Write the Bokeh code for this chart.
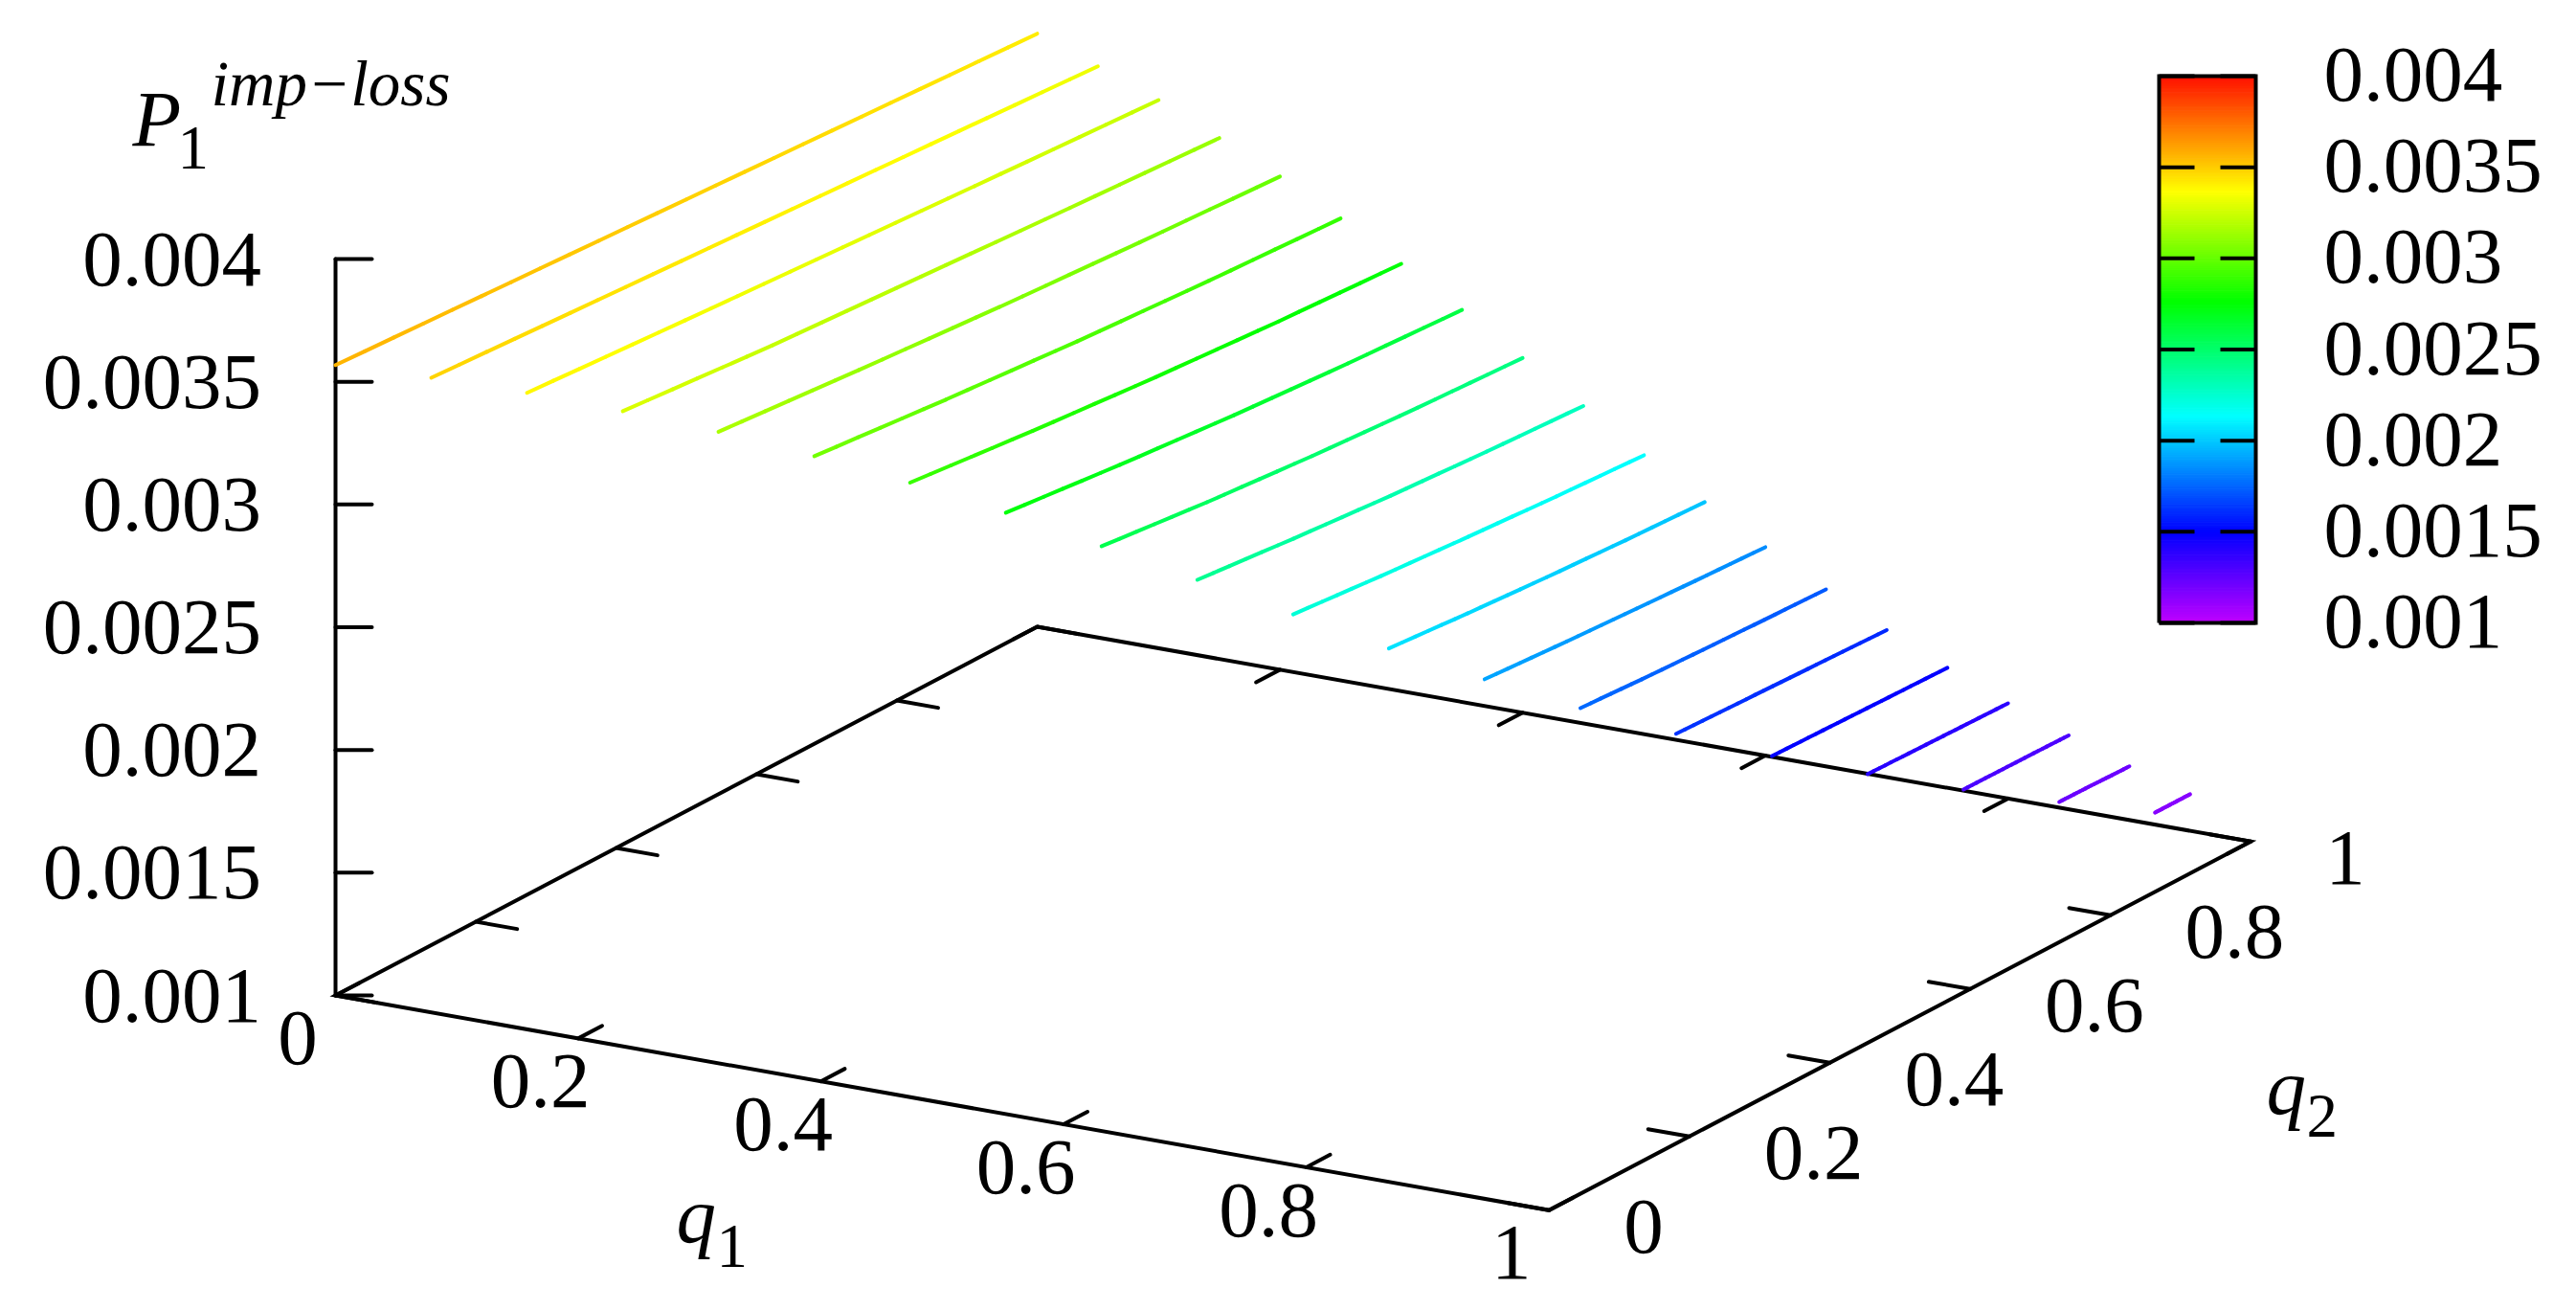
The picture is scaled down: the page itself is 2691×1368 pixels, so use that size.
import numpy as np
from bokeh.plotting import figure
from bokeh.models import Range1d
from bokeh.core.properties import value
from bokeh.embed import file_html
from bokeh.resources import INLINE

# ---------- data ----------
Q1_LINES = [0.00, 0.05, 0.10, 0.15, 0.20, 0.25, 0.30, 0.35, 0.40, 0.45,
            0.50, 0.55, 0.60, 0.65, 0.70, 0.75, 0.80, 0.85, 0.90, 0.95]
# P1 along each line: at q2=q1, a quarter, half, three quarters of the way, and at q2=1
Z_START = [.003568, .003485, .003392, .003286, .003171, .003040, .002901, .002747, .002579, .002411,
           .002239, .002069, .001912, .001763, .001627, .001505, .001400, .001306, .001224, .001149]
Z_QUART = [.003530, .003445, .003349, .003234, .003122, .002989, .002849, .002698, .002533, .002373,
           .002207, .002043, .001893, .001749, .001620, .001501, .001397, .001305, .001223, .001149]
Z_MID = [.003492, .003406, .003309, .003196, .003078, .002945, .002805, .002656, .002496, .002340,
         .002180, .002021, .001877, .001738, .001613, .001497, .001394, .001304, .001222, .001149]
Z_THREE = [.003454, .003367, .003270, .003157, .003041, .002910, .002769, .002623, .002467, .002314,
           .002156, .002003, .001862, .001729, .001606, .001493, .001391, .001303, .001220, .001149]
Z_END = [.003416, .003327, .003233, .003122, .003009, .002882, .002741, .002597, .002445, .002293,
         .002136, .001989, .001849, .001721, .001599, .001489, .001388, .001301, .001219, .001149]

Z_TICKS = [.001, .0015, .002, .0025, .003, .0035, .004]
Z_LABELS = ["0.001", "0.0015", "0.002", "0.0025", "0.003", "0.0035", "0.004"]
Q_TICKS = [0, .2, .4, .6, .8, 1]
Q_LABELS = ["0", "0.2", "0.4", "0.6", "0.8", "1"]

PALETTE_Z = [.001, .0015, .002137, .002764, .003369, .004]
PALETTE_RGB = [(192, 0, 255), (0, 0, 255), (0, 255, 255), (0, 255, 0), (255, 255, 0), (255, 16, 0)]

# ---------- projection of the 3-D box onto the page ----------
ZMIN, ZMAX = .001, .004
OX, OY = 350.0, 1039.0
Q1X, Q1Y = 1267.7, 224.3
Q2X, Q2Y = 733.0, -385.0
ZH = 769.0


def px(q1, q2, z=ZMIN):
    return (OX + Q1X * q1 + Q2X * q2, OY + Q1Y * q1 + Q2Y * q2 - (z - ZMIN) / (ZMAX - ZMIN) * ZH)


def colour(z):
    r, g, b = [int(round(np.interp(z, PALETTE_Z, [c[i] for c in PALETTE_RGB]))) for i in range(3)]
    return f"#{r:02x}{g:02x}{b:02x}"


p = figure(width=2675, height=1352, x_range=Range1d(0, 2675), y_range=Range1d(1352, 0),
           output_backend="svg", toolbar_location=None, min_border=0, outline_line_color=None)
p.axis.visible = False
p.grid.visible = False

LW = 4.0
FONT = value("Liberation Serif")
FS = "83px"
SUB = "65px"
SUP = "67px"
LIFT = 0.36  # the renderer sets its baseline this far (in em) below the asked position


def seg(a, b):
    p.line([a[0], b[0]], [a[1], b[1]], line_color="black", line_width=LW, line_cap="round")


# box floor and vertical axis
A, B, C, D = px(0, 0), px(1, 0), px(1, 1), px(0, 1)
xs = [D[0], A[0], B[0], C[0], D[0]]
ys = [D[1], A[1], B[1], C[1], D[1]]
p.line(xs, ys, line_color="black", line_width=LW, line_join="miter")
seg(A, px(0, 0, ZMAX))

# ticks
T = 0.034
for q in Q_TICKS:
    seg(px(q, 0), px(q, T))          # q1 front
    seg(px(q, 1), px(q, 1 - T))      # q1 back
    seg(px(1, q), px(1 - T, q))      # q2 front
    seg(px(0, q), px(T, q))          # q2 left
for z in Z_TICKS:
    a = px(0, 0, z)
    seg(a, (a[0] + 38, a[1]))

# data lines; each stretch is shaded along its length as the original palette does
seg_x, seg_y, seg_c = [], [], []
for q1, *zv in zip(Q1_LINES, Z_START, Z_QUART, Z_MID, Z_THREE, Z_END):
    q2s = [q1 + (1 - q1) * f for f in (0, .25, .5, .75, 1)]
    for i in range(4):
        shades = 6
        for j in range(shades):
            f0, f1 = j / shades, (j + 1) / shades
            z0 = zv[i] + (zv[i + 1] - zv[i]) * f0
            z1 = zv[i] + (zv[i + 1] - zv[i]) * f1
            a = px(q1, q2s[i] + (q2s[i + 1] - q2s[i]) * f0, z0)
            b = px(q1, q2s[i] + (q2s[i + 1] - q2s[i]) * f1, z1)
            seg_x.append([a[0], b[0]])
            seg_y.append([a[1], b[1]])
            seg_c.append(colour((z0 + z1) / 2))
p.multi_line(xs=seg_x, ys=seg_y, line_color=seg_c, line_width=LW, line_cap="round")

# tick labels
FSN = 83
SUBN = 65
zx = [272.5] * len(Z_TICKS)
zy = [px(0, 0, z)[1] + 30 - LIFT * FSN for z in Z_TICKS]
p.text(zx, zy, text=Z_LABELS, text_font=FONT, text_font_size=FS, text_align="right", text_baseline="alphabetic")
q1x = [px(q, 0)[0] - 39.5 for q in Q_TICKS]
q1y = [px(q, 0)[1] + 74.5 - LIFT * FSN for q in Q_TICKS]
p.text(q1x, q1y, text=Q_LABELS, text_font=FONT, text_font_size=FS, text_align="center", text_baseline="alphabetic")
q2x = [px(1, q)[0] + 78 for q in Q_TICKS]
q2y = [px(1, q)[1] + 47 - LIFT * FSN for q in Q_TICKS]
p.text(q2x, q2y, text=Q_LABELS, text_font=FONT, text_font_size=FS, text_align="left", text_baseline="alphabetic")


def label(x, y, s, size, n, italic=False):
    p.text([x], [y - LIFT * n], text=[s], text_font=FONT, text_font_size=size,
           text_font_style="italic" if italic else "normal",
           text_align="left", text_baseline="alphabetic")


# axis titles
label(138, 153, "P", FS, FSN, True)
label(185, 177, "1", SUB, SUBN)
label(220, 111, "imp\u2212loss", SUP, 67, True)
label(706, 1298, "q", FS, FSN, True)
label(748, 1324, "1", SUB, SUBN)
label(2367, 1164, "q", FS, FSN, True)
label(2409, 1188, "2", SUB, SUBN)

# colour bar
BX0, BX1, BY0, BY1 = 2255.0, 2356.0, 650.0, 79.0


def by(z):
    return BY0 + (z - ZMIN) / (ZMAX - ZMIN) * (BY1 - BY0)


edges = np.linspace(ZMIN, ZMAX, 241)
cols = [colour((a + b) / 2) for a, b in zip(edges[:-1], edges[1:])]
p.quad(left=BX0, right=BX1, bottom=[by(z) for z in edges[:-1]], top=[by(z) for z in edges[1:]],
       fill_color=cols, line_color=cols, line_width=1)
for z in Z_TICKS:
    y = by(z)
    p.line([BX0, BX0 + 37], [y, y], line_color="black", line_width=LW)
    p.line([BX1 - 37, BX1], [y, y], line_color="black", line_width=LW)
p.line([BX0, BX1, BX1, BX0, BX0], [BY0, BY0, BY1, BY1, BY0], line_color="black", line_width=LW, line_join="miter")
p.text([2427] * len(Z_TICKS), [by(z) + 28.5 - LIFT * FSN for z in Z_TICKS], text=Z_LABELS, text_font=FONT,
       text_font_size=FS, text_align="left", text_baseline="alphabetic")

open("out.html", "w").write(file_html(p, INLINE))
